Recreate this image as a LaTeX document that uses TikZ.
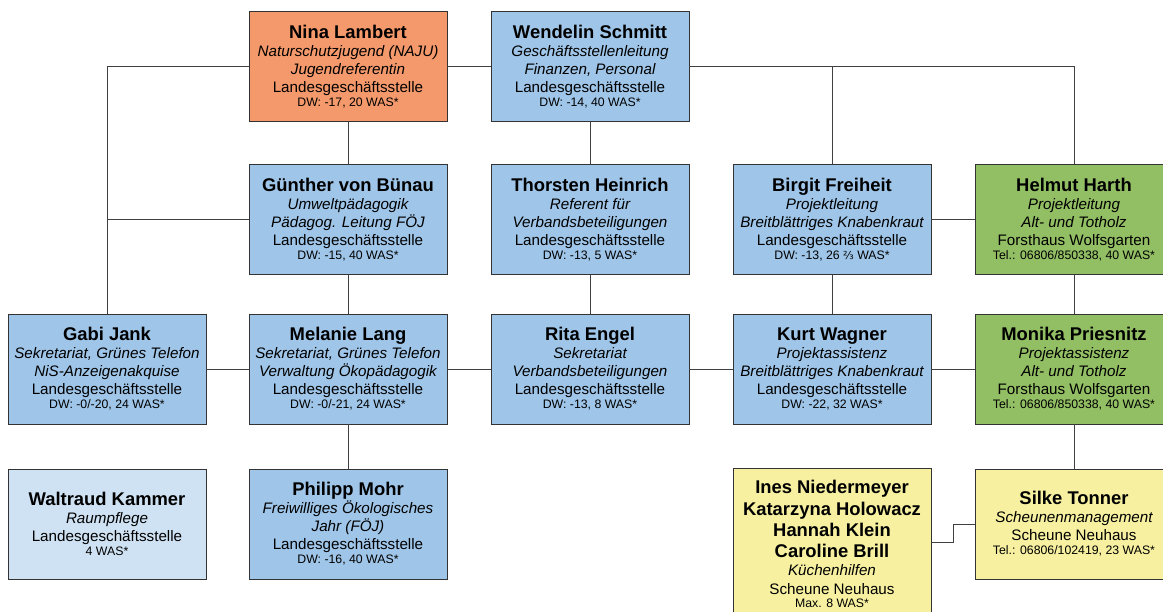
\documentclass[tikz,border=0pt]{standalone}
\usepackage{fontspec}
\setmainfont{Liberation Sans}
\newfontfamily\djv{DejaVu Sans}
\definecolor{cOrange}{RGB}{244,153,107}
\definecolor{cBlue}{RGB}{159,197,232}
\definecolor{cLight}{RGB}{207,226,243}
\definecolor{cGreen}{RGB}{146,190,100}
\definecolor{cYellow}{RGB}{246,240,160}
\newcommand\nm[1]{{\fontsize{18.4}{20}\selectfont\bfseries #1}}
\newcommand\sm[1]{{\fontsize{12.3}{14}\selectfont #1}}
\begin{document}
\begin{tikzpicture}[x=1pt,y=-1pt,
  box/.style={draw=black!80, line width=0.9pt, rectangle, minimum width=198pt,
    minimum height=110pt, inner sep=0pt, align=center,
    font=\fontsize{15.2}{17.9}\selectfont},
  conn/.style={draw=black!75, line width=0.9pt}]
\useasboundingbox (0,0) rectangle (1163,611);
% row 1
\node[box, fill=cOrange] (nina) at (348,66.5) {\nm{Nina Lambert}\\\itshape Naturschutzjugend (NAJU)\\\itshape Jugendreferentin\\Landesgeschäftsstelle\\[-3.8pt]\sm{DW: -17, 20 WAS*}};
\node[box, fill=cBlue] (wendelin) at (590,66.5) {\nm{Wendelin Schmitt}\\\itshape Geschäftsstellenleitung\\\itshape Finanzen, Personal\\Landesgeschäftsstelle\\[-3.8pt]\sm{DW: -14, 40 WAS*}};
% row 2
\node[box, fill=cBlue] (guenther) at (348,219.5) {\nm{Günther von Bünau}\\\itshape Umweltpädagogik\\\itshape Pädagog. Leitung FÖJ\\Landesgeschäftsstelle\\[-3.8pt]\sm{DW: -15, 40 WAS*}};
\node[box, fill=cBlue] (thorsten) at (590,219.5) {\nm{Thorsten Heinrich}\\\itshape Referent für\\\itshape Verbandsbeteiligungen\\Landesgeschäftsstelle\\[-3.8pt]\sm{DW: -13, 5 WAS*}};
\node[box, fill=cBlue] (birgit) at (832,219.5) {\nm{Birgit Freiheit}\\\itshape Projektleitung\\\itshape Breitblättriges Knabenkraut\\Landesgeschäftsstelle\\[-3.8pt]\sm{DW: -13, 26 {\djv\fontsize{11}{12}\selectfont ⅔} WAS*}};
\node[box, fill=cGreen] (helmut) at (1074,219.5) {\nm{Helmut Harth}\\\itshape Projektleitung\\\itshape Alt- und Totholz\\Forsthaus Wolfsgarten\\[-3.8pt]\sm{Tel.: 06806/850338, 40 WAS*}};
% row 3
\node[box, fill=cBlue] (gabi) at (107,369) {\nm{Gabi Jank}\\\itshape Sekretariat, Grünes Telefon\\\itshape NiS-Anzeigenakquise\\Landesgeschäftsstelle\\[-3.8pt]\sm{DW: -0/-20, 24 WAS*}};
\node[box, fill=cBlue] (melanie) at (348,369) {\nm{Melanie Lang}\\\itshape Sekretariat, Grünes Telefon\\\itshape Verwaltung Ökopädagogik\\Landesgeschäftsstelle\\[-3.8pt]\sm{DW: -0/-21, 24 WAS*}};
\node[box, fill=cBlue] (rita) at (590,369) {\nm{Rita Engel}\\\itshape Sekretariat\\\itshape Verbandsbeteiligungen\\Landesgeschäftsstelle\\[-3.8pt]\sm{DW: -13, 8 WAS*}};
\node[box, fill=cBlue] (kurt) at (832,369) {\nm{Kurt Wagner}\\\itshape Projektassistenz\\\itshape Breitblättriges Knabenkraut\\Landesgeschäftsstelle\\[-3.8pt]\sm{DW: -22, 32 WAS*}};
\node[box, fill=cGreen] (monika) at (1074,369) {\nm{Monika Priesnitz}\\\itshape Projektassistenz\\\itshape Alt- und Totholz\\Forsthaus Wolfsgarten\\[-3.8pt]\sm{Tel.: 06806/850338, 40 WAS*}};
% row 4
\node[box, fill=cLight] (waltraud) at (107,524) {\nm{Waltraud Kammer}\\\itshape Raumpflege\\Landesgeschäftsstelle\\[-3.8pt]\sm{4 WAS*}};
\node[box, fill=cBlue] (philipp) at (348,524) {\nm{Philipp Mohr}\\\itshape Freiwilliges Ökologisches\\\itshape Jahr (FÖJ)\\Landesgeschäftsstelle\\[-3.8pt]\sm{DW: -16, 40 WAS*}};
\node[box, fill=cYellow, minimum height=0pt, inner ysep=12pt, anchor=north] (ines) at (832,468) {\nm{Ines Niedermeyer}\\[3.4pt]\nm{Katarzyna Holowacz}\\[3.4pt]\nm{Hannah Klein}\\[3.4pt]\nm{Caroline Brill}\\\itshape Küchenhilfen\\[1.2pt]Scheune Neuhaus\\[-4.6pt]\sm{Max. 8 WAS*}};
\node[box, fill=cYellow] (silke) at (1074,524) {\nm{Silke Tonner}\\\itshape Scheunenmanagement\\Scheune Neuhaus\\[-3.8pt]\sm{Tel.: 06806/102419, 23 WAS*}};
% connectors
\draw[conn] (gabi.north) |- (nina.west);
\draw[conn] (guenther.west) -- (guenther.west -| gabi.north);
\draw[conn] (nina.east) -- (wendelin.west);
\draw[conn] (wendelin.east) -| (helmut.north);
\draw[conn] (wendelin.east -| birgit.north) -- (birgit.north);
\draw[conn] (birgit.east) -- (helmut.west);
\draw[conn] (nina.south) -- (guenther.north);
\draw[conn] (guenther.south) -- (melanie.north);
\draw[conn] (melanie.south) -- (philipp.north);
\draw[conn] (wendelin.south) -- (thorsten.north);
\draw[conn] (thorsten.south) -- (rita.north);
\draw[conn] (birgit.south) -- (kurt.north);
\draw[conn] (helmut.south) -- (monika.north);
\draw[conn] (monika.south) -- (silke.north);
\draw[conn] (gabi.east) -- (melanie.west);
\draw[conn] (melanie.east) -- (rita.west);
\draw[conn] (rita.east) -- (kurt.west);
\draw[conn] (kurt.east) -- (monika.west);
\draw[conn] (ines.east |- 0,542) -- ++(22,0) |- (silke.west);
\end{tikzpicture}
\end{document}
